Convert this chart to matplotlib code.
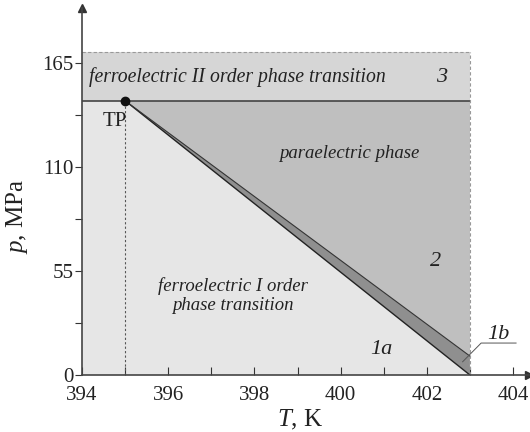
import numpy as np
import matplotlib
matplotlib.use("Agg")
import matplotlib.pyplot as plt

plt.rcParams['font.family'] = ['Liberation Serif', 'DejaVu Serif']
plt.rcParams['mathtext.fontset'] = 'custom'
plt.rcParams['mathtext.rm'] = 'Liberation Serif'
plt.rcParams['mathtext.it'] = 'Liberation Serif:italic'

# phase diagram points (T in K, p in MPa)
T_min = 394
T_tp, p_tp = 395, 145      # triple point
T_end = 403                # end of the phase lines
p_top = 171                # top of region 3
p_1b = 10                  # upper edge of band 1b at T_end
x_ticks = [394, 396, 398, 400, 402, 404]
y_ticks = [0, 55, 110, 165]

fig = plt.figure(figsize=(5.3, 4.32), dpi=100)
ax = fig.add_axes([0.1547, 0.1319, 0.8434, 0.8495])

c_light = '#e6e6e6'
c_top = '#d6d6d6'
c_para = '#bfbfbf'
c_band = '#8f8f8f'

# regions
ax.fill([T_min, T_min, T_tp, T_end], [0, p_tp, p_tp, 0], color=c_light, lw=0)
ax.fill([T_min, T_min, T_end, T_end], [p_tp, p_top, p_top, p_tp], color=c_top, lw=0)
ax.fill([T_tp, T_end, T_end], [p_tp, p_tp, p_1b], color=c_para, lw=0)
ax.fill([T_tp, T_end, T_end], [p_tp, p_1b, 0], color=c_band, lw=0)

# lines
ax.plot([T_min, T_end], [p_tp, p_tp], color='#444444', lw=1.2)
ax.plot([T_tp, T_end], [p_tp, 0], color='#222222', lw=1.0)
ax.plot([T_tp, T_end], [p_tp, p_1b], color='#333333', lw=0.8)
ax.plot([T_tp, T_tp], [0, p_tp], color='#555555', lw=0.8, ls=(0, (2, 2)))
ax.plot([T_min, T_end], [p_top, p_top], color='#999999', lw=0.8, ls=(0, (3, 2)))
ax.plot([T_end, T_end], [0, p_top], color='#999999', lw=0.8, ls=(0, (3, 2)))
ax.plot([T_tp], [p_tp], 'o', color='#111111', ms=6, zorder=5)

# labels
tkw = dict(style='italic', color='#222222', ha='center', va='center')
ax.text(397.6, 157.5, 'ferroelectric II order phase transition', fontsize=14.2, **tkw)
ax.text(402.35, 157.5, '3', fontsize=16, **tkw)
ax.text(400.2, 117, 'paraelectric phase', fontsize=13.5, **tkw)
ax.text(402.2, 60, '2', fontsize=16, **tkw)
ax.text(397.5, 42, 'ferroelectric I order\nphase transition', fontsize=13.5,
        linespacing=1.1, **tkw)
ax.text(400.95, 13.5, '1a', fontsize=16, **tkw)
ax.text(403.65, 21.5, '1b', fontsize=16, **tkw)
ax.plot([402.83, 403.26, 404.07], [7.0, 16.9, 16.9], color='#555555', lw=0.7,
        clip_on=False)
ax.text(394.77, 134, 'TP', fontsize=15, color='#222222', ha='center', va='center')

ax.set_xlim(394, 404.37)
ax.set_ylim(0, 194)
ax.set_xticks(x_ticks)
ax.set_yticks(y_ticks)
ax.set_xticks(np.arange(394, 405, 1), minor=True)
ax.set_yticks([27.5, 82.5, 137.5], minor=True)
ax.tick_params(axis='x', which='both', direction='in', length=6, width=0.8,
               labelsize=15, pad=8, colors='#333333', labelcolor='#222222')
ax.tick_params(axis='y', which='both', direction='out', length=5, width=0.8,
               labelsize=15, pad=1, colors='#333333', labelcolor='#222222')

for s in ['top', 'right']:
    ax.spines[s].set_visible(False)
for s in ['left', 'bottom']:
    ax.spines[s].set_linewidth(1.2)
    ax.spines[s].set_color('#444444')
ax.plot(1, 0, '>', color='#333333', ms=6, transform=ax.transAxes, clip_on=False)
ax.plot(0, 1, '^', color='#333333', ms=6, transform=ax.transAxes, clip_on=False)

ax.set_xlabel(r'$\it{T}$, K', fontsize=18, color='#222222')
ax.set_ylabel(r'$\it{p}$, MPa', fontsize=18, color='#222222')
ax.xaxis.set_label_coords(0.488, -0.09)
ax.yaxis.set_label_coords(-0.116, 0.433)

fig.savefig('out.png', dpi=100)
